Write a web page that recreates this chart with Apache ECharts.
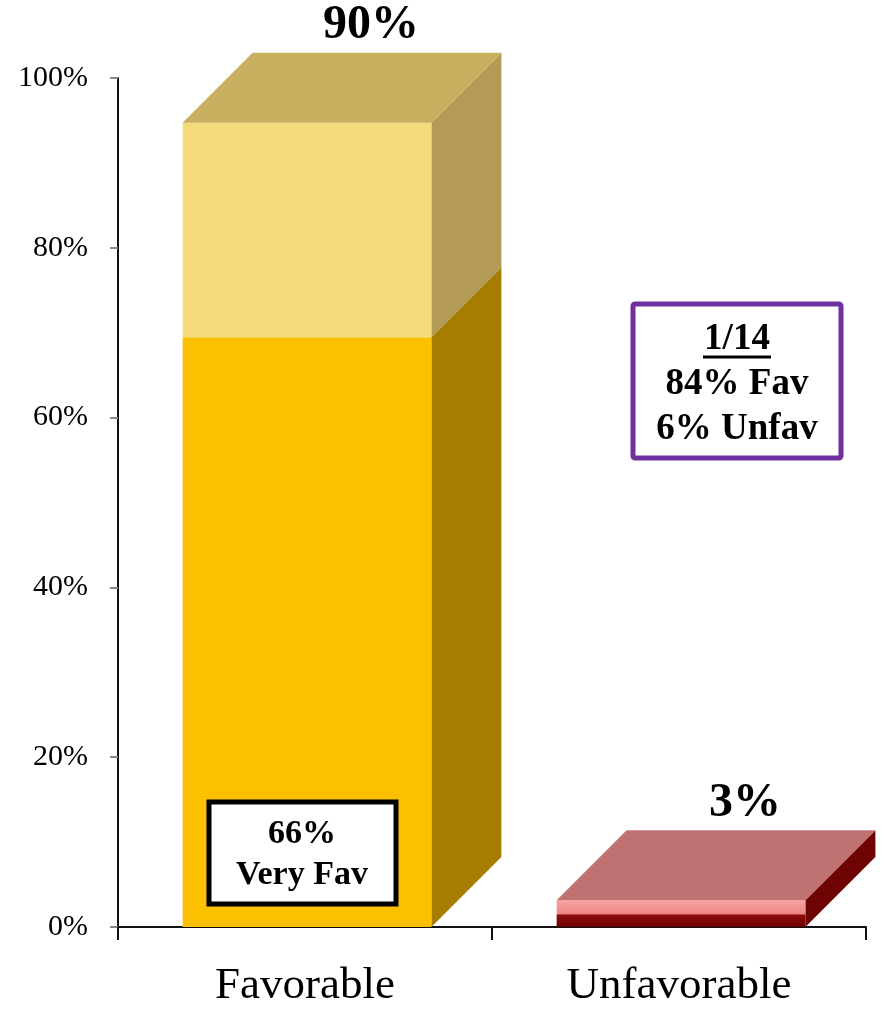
<!DOCTYPE html>
<html>
<head>
<meta charset="utf-8">
<script src="https://cdn.jsdelivr.net/npm/echarts@6/dist/echarts.min.js"></script>
<style>
html,body{margin:0;padding:0;background:#fff;}
#chart{width:885px;height:1009px;}
</style>
</head>
<body>
<div id="chart"></div>
<script>
// ---- data ----
const categories = ['Favorable', 'Unfavorable'];
const baseValues = [66, 3];   // very favorable / unfavorable
const upperValues = [24, 0];  // somewhat favorable
const yTicks = [0, 20, 40, 60, 80, 100];
const boxVeryFav = ['66%', 'Very Fav'];
const boxPrior = ['1/14', '84% Fav', '6% Unfav'];

const D = 70; // 3D depth in px
const SERIF = '"Liberation Serif", "Times New Roman", serif';

const palettes = [
  { base: { front: '#FDC000', side: '#A67D00' },
    upper: { front: '#F6DB7D', side: '#B39A55', top: '#C9AE60' } },
  { base: { front: 'grad', side: '#6E0303', top: '#C07272' } }
];

const chart = echarts.init(document.getElementById('chart'));

function renderItem(params, api) {
  const idx = api.value(0);
  const base = api.value(1);
  const upper = api.value(2);
  const total = base + upper;
  const p0 = api.coord([idx, 0]);
  const cx = p0[0] + 2;
  const w = api.size([1, 0])[0] * 0.665;
  const x1 = cx - w / 2, x2 = cx + w / 2;
  const pal = palettes[idx];
  const children = [];
  function seg(vFrom, vTo, c, withTop) {
    const yA = api.coord([idx, vFrom])[1];
    const yB = api.coord([idx, vTo])[1];
    let front = c.front;
    if (front === 'grad') {
      front = new echarts.graphic.LinearGradient(0, 0, 0, 1, [
        { offset: 0, color: '#F7A3A3' },
        { offset: 0.5, color: '#EE8686' },
        { offset: 0.56, color: '#8E0D0D' },
        { offset: 1, color: '#6A0000' }
      ]);
    }
    children.push({ type: 'polygon', shape: { points: [[x2, yA], [x2, yB], [x2 + D, yB - D], [x2 + D, yA - D]] },
      style: { fill: c.side } });
    children.push({ type: 'rect', shape: { x: x1, y: yB, width: w, height: yA - yB },
      style: { fill: front } });
    if (withTop) {
      children.push({ type: 'polygon', shape: { points: [[x1, yB], [x2, yB], [x2 + D, yB - D], [x1 + D, yB - D]] },
        style: { fill: c.top } });
    }
    return yB;
  }
  let yTop;
  if (upper > 0) {
    seg(0, base, pal.base, false);
    yTop = seg(base, total, pal.upper, true);
  } else {
    yTop = seg(0, base, pal.base, true);
  }
  children.push({ type: 'text', style: {
    text: total + '%', x: cx + 64, y: yTop - D - 27,
    align: 'center', verticalAlign: 'middle',
    font: 'bold 48px ' + SERIF, fill: '#000' } });
  return { type: 'group', children: children };
}

const option = {
  animation: false,
  grid: { left: 118, right: 19, top: 78, bottom: 82 },
  xAxis: {
    type: 'category', data: categories,
    axisLine: { lineStyle: { color: '#111', width: 2 } },
    axisTick: { show: true, length: 13, lineStyle: { color: '#111', width: 2 } },
    axisLabel: { fontFamily: SERIF, fontSize: 45, color: '#000', margin: 37 }
  },
  yAxis: [{
    type: 'value', min: 0, max: 100, interval: 20,
    axisLine: { show: true, lineStyle: { color: '#111', width: 2 } },
    axisTick: { show: true, length: 8, lineStyle: { color: '#888', width: 2 } },
    splitLine: { show: false },
    axisLabel: { fontFamily: SERIF, fontSize: 30, color: '#000', margin: 30,
      formatter: v => yTicks.includes(v) ? v + '%' : '' }
  }, {
    type: 'value', min: 0, max: 95, show: false
  }],
  series: [{
    type: 'custom', yAxisIndex: 1,
    renderItem: renderItem,
    data: categories.map((c, i) => [i, baseValues[i], upperValues[i]]),
    z: 1
  }],
  graphic: {
    elements: [
      { type: 'rect', z: 100, shape: { x: 209, y: 802, width: 187, height: 102 },
        style: { fill: '#fff', stroke: '#000', lineWidth: 5 } },
      { type: 'text', z: 101, style: { text: boxVeryFav.join('\n'), x: 302, y: 855,
        align: 'center', verticalAlign: 'middle', lineHeight: 41,
        font: 'bold 34px ' + SERIF, fill: '#000' } },
      { type: 'rect', z: 100, shape: { x: 633, y: 304, width: 208, height: 154, r: 2 },
        style: { fill: '#fff', stroke: '#7030A0', lineWidth: 5 } },
      { type: 'text', z: 101, style: { text: boxPrior.join('\n'), x: 737, y: 384,
        align: 'center', verticalAlign: 'middle', lineHeight: 45,
        font: 'bold 37px ' + SERIF, fill: '#000' } },
      { type: 'line', z: 101, shape: { x1: 703, y1: 357, x2: 771, y2: 357 },
        style: { stroke: '#000', lineWidth: 3 } }
    ]
  }
};
chart.setOption(option);
</script>
</body>
</html>
